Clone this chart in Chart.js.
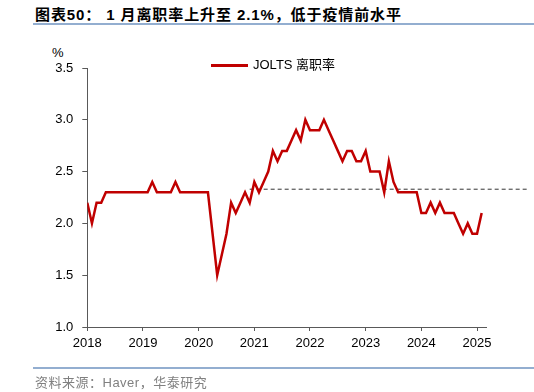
<!DOCTYPE html>
<html><head><meta charset="utf-8">
<script src="https://cdn.jsdelivr.net/npm/chart.js@4.4.1/dist/chart.umd.min.js"></script>
<style>
html,body{margin:0;padding:0;background:#fff;}
#wrap{position:relative;width:534px;height:392px;overflow:hidden;font-family:"Liberation Sans",Arial,"Noto Sans CJK SC",sans-serif;}
#title{position:absolute;left:35px;top:3px;font-size:15px;font-weight:bold;color:#000;white-space:nowrap;letter-spacing:0.9px;font-family:"Liberation Sans",Arial,"Noto Sans CJK SC",sans-serif;}
#tline{position:absolute;left:33px;top:23px;width:501px;height:2px;background:#93AED0;}
#bline{position:absolute;left:33px;top:367px;width:501px;height:2px;background:#93AED0;}
#source{position:absolute;left:35px;top:372px;font-size:13px;color:#808080;white-space:nowrap;letter-spacing:0.5px;}
#unit{position:absolute;left:52px;top:45px;font-size:13px;color:#000;}
#legend{position:absolute;left:211px;top:57px;height:16px;white-space:nowrap;font-size:13px;color:#000;}
#legend .sw{position:absolute;left:0;top:7px;width:37px;height:2.5px;}
#legend .tx{position:absolute;left:42px;top:0;line-height:16px;}
canvas{position:absolute;left:0;top:0;}
</style></head>
<body>
<div id="wrap">
  <div id="title">图表50： 1 月离职率上升至 2.1%，低于疫情前水平</div>
  <div id="tline"></div>
  <div id="unit">%</div>
  <canvas id="c" width="534" height="392"></canvas>
  <div id="legend"><div class="sw"></div><div class="tx"></div></div>
  <div id="bline"></div>
  <div id="source">资料来源：Haver，华泰研究</div>
</div>
<script>
// Month index 0 = Dec 2017 (sits on the 2018 tick); one entry per month through Jan 2025
const seriesName = 'JOLTS 离职率';
const quitsRate = [
  2.2, 2.0, 2.2, 2.2, 2.3, 2.3, 2.3, 2.3, 2.3, 2.3, 2.3, 2.3, 2.3, 2.3,
  2.4, 2.3, 2.3, 2.3, 2.3, 2.4, 2.3, 2.3, 2.3, 2.3, 2.3, 2.3, 2.3,
  1.9, 1.5, 1.7, 1.9, 2.2, 2.1, 2.2, 2.3, 2.2, 2.4, 2.3, 2.4, 2.5,
  2.7, 2.6, 2.7, 2.7, 2.8, 2.9, 2.8, 3.0, 2.9, 2.9, 2.9, 3.0,
  2.9, 2.8, 2.7, 2.6, 2.7, 2.7, 2.6, 2.6, 2.7, 2.5, 2.5, 2.5,
  2.3, 2.6, 2.4, 2.3, 2.3, 2.3, 2.3, 2.3,
  2.1, 2.1, 2.2, 2.1, 2.2, 2.1, 2.1, 2.1, 2.0, 1.9, 2.0, 1.9, 1.9, 2.1
];
const yearLabels = ['2018','2019','2020','2021','2022','2023','2024','2025'];
const yTicks = [1.0, 1.5, 2.0, 2.5, 3.0, 3.5];
// Pre-pandemic average reference line
const avgLevel = [2.33, 2.33];
const avgMonthIdx = [35, 95];

const lineColor = '#C00000';
const axisColor = '#595959';
const fontFam = '"Liberation Sans", Arial, sans-serif';

document.querySelector('#legend .sw').style.background = lineColor;
document.querySelector('#legend .tx').textContent = seriesName;

new Chart(document.getElementById('c'), {
  type: 'line',
  data: {
    datasets: [
      {
        label: seriesName,
        data: quitsRate.map((v, i) => ({x: i, y: v})),
        borderColor: lineColor,
        borderWidth: 2.5,
        pointRadius: 0,
        tension: 0,
        fill: false
      },
      {
        label: 'avg',
        data: avgMonthIdx.map((x, i) => ({x: x, y: avgLevel[i]})),
        borderColor: '#333333',
        borderWidth: 1,
        borderDash: [4, 3],
        pointRadius: 0,
        fill: false,
        clip: false
      }
    ]
  },
  options: {
    responsive: false,
    animation: false,
    layout: {padding: {left: 0, right: 47.7, top: 68, bottom: 35}},
    plugins: {legend: {display: false}, tooltip: {enabled: false}},
    scales: {
      x: {
        type: 'linear', min: 0, max: 86,
        border: {color: axisColor, width: 1},
        grid: {drawOnChartArea: false, tickLength: 4, color: axisColor},
        ticks: {
          stepSize: 12, includeBounds: false, autoSkip: false, maxRotation: 0,
          color: '#000', padding: 5, font: {family: fontFam, size: 13},
          callback: (v) => yearLabels[Math.round(v / 12)]
        },
        afterFit: (s) => { s.height = 30; }
      },
      y: {
        min: yTicks[0], max: yTicks[yTicks.length - 1],
        border: {color: axisColor, width: 1},
        grid: {drawOnChartArea: false, tickLength: 5, color: axisColor},
        ticks: {
          stepSize: 0.5, color: '#000', padding: 9, font: {family: fontFam, size: 13},
          callback: (v) => Number(v).toFixed(1)
        },
        afterFit: (s) => { s.width = 87.3; }
      }
    }
  }
});
</script>
</body></html>
